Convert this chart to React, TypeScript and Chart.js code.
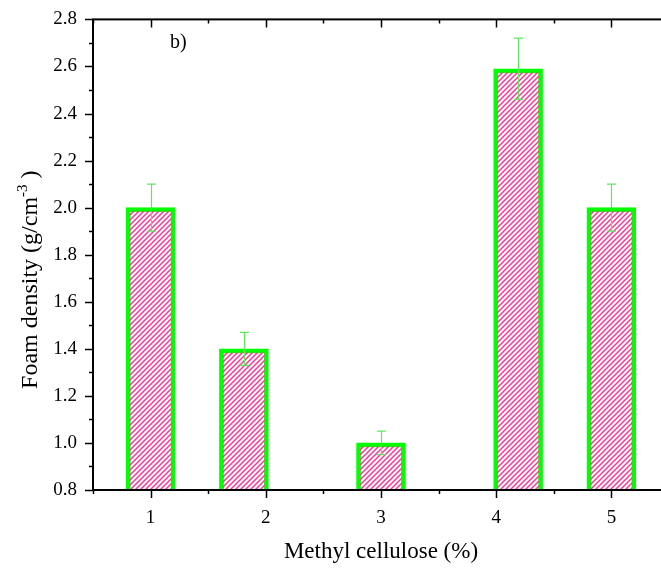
import React, { useEffect, useRef } from 'react';
import { Chart, registerables } from 'chart.js';

Chart.register(...registerables);

const xTickValues = [1, 2, 3, 4, 5];
const barPositions = [1, 1.81, 3, 4.19, 5];
const densities = [2.0, 1.4, 1.0, 2.59, 2.0];
const errors = [0.1, 0.07, 0.05, 0.13, 0.1];
const xMin = 0.5;
const xMax = 5.5;
const yMin = 0.8;
const yMax = 2.8;
const yStep = 0.2;
const xTitle = 'Methyl cellulose (%)';
const yTitleMain = 'Foam density (g/cm';
const yTitleSup = '-3';
const yTitleEnd = ' )';
const panelLabel = 'b)';

const SERIF = "'Liberation Serif', 'Times New Roman', serif";
Chart.defaults.font.family = SERIF;

function makePattern(): CanvasPattern | string {
  const size = 5;
  const pc = document.createElement('canvas');
  pc.width = size;
  pc.height = size;
  const g = pc.getContext('2d');
  if (!g) return '#ff3399';
  g.strokeStyle = '#ff3399';
  g.lineWidth = 1.5;
  g.beginPath();
  g.moveTo(-1, size + 1);
  g.lineTo(size + 1, -1);
  g.moveTo(-1, 1);
  g.lineTo(1, -1);
  g.moveTo(size - 1, size + 1);
  g.lineTo(size + 1, size - 1);
  g.stroke();
  const p = g.createPattern(pc, 'repeat');
  return p || '#ff3399';
}

const decorPlugin = {
  id: 'decor',
  afterDatasetsDraw(chart: any) {
    const ctx = chart.ctx;
    const xs = chart.scales.x;
    const ys = chart.scales.y;
    ctx.save();
    ctx.strokeStyle = '#5ee85e';
    ctx.lineWidth = 1.2;
    densities.forEach((v, i) => {
      const px = Math.round(xs.getPixelForValue(barPositions[i])) + 0.5;
      const top = ys.getPixelForValue(v + errors[i]);
      const bot = ys.getPixelForValue(v - errors[i]);
      ctx.beginPath();
      ctx.moveTo(px, top);
      ctx.lineTo(px, bot);
      ctx.moveTo(px - 4.5, top);
      ctx.lineTo(px + 4.5, top);
      ctx.moveTo(px - 4.5, bot);
      ctx.lineTo(px + 4.5, bot);
      ctx.stroke();
    });
    ctx.restore();
  },
  afterDraw(chart: any) {
    const ctx = chart.ctx;
    const xs = chart.scales.x;
    const ys = chart.scales.y;
    const left = xs.getPixelForValue(xMin);
    const right = xs.getPixelForValue(xMax);
    const top = ys.getPixelForValue(yMax);
    const bottom = ys.getPixelForValue(yMin);
    ctx.save();
    ctx.strokeStyle = '#000';
    ctx.lineWidth = 2;
    ctx.strokeRect(left, top, right - left, bottom - top);
    ctx.lineWidth = 1.5;
    ctx.beginPath();
    for (let k = 0; k <= Math.round((yMax - yMin) / (yStep / 2)); k++) {
      const v = yMin + k * (yStep / 2);
      const py = Math.round(ys.getPixelForValue(v)) + 0.5;
      const major = k % 2 === 0;
      const len = major ? 8 : 4;
      ctx.moveTo(left, py);
      ctx.lineTo(left - len, py);
      ctx.moveTo(right, py);
      ctx.lineTo(right - len, py);
    }
    xTickValues.forEach((v) => {
      const px = Math.round(xs.getPixelForValue(v)) + 0.5;
      ctx.moveTo(px, bottom);
      ctx.lineTo(px, bottom + 8);
      ctx.moveTo(px, top);
      ctx.lineTo(px, top + 8);
    });
    for (let v = xMin; v <= xMax + 1e-9; v += 1) {
      const px = Math.round(xs.getPixelForValue(v)) + 0.5;
      ctx.moveTo(px, bottom);
      ctx.lineTo(px, bottom + 4);
      ctx.moveTo(px, top);
      ctx.lineTo(px, top + 4);
    }
    ctx.stroke();

    ctx.fillStyle = '#000';
    const mainFont = '24px ' + SERIF;
    const supFont = '15px ' + SERIF;
    ctx.font = mainFont;
    const w1 = ctx.measureText(yTitleMain).width;
    const w3 = ctx.measureText(yTitleEnd).width;
    ctx.font = supFont;
    const w2 = ctx.measureText(yTitleSup).width;
    const total = w1 + w2 + w3;
    const cy = (top + bottom) / 2 + 25;
    ctx.translate(37, cy);
    ctx.rotate(-Math.PI / 2);
    ctx.textBaseline = 'alphabetic';
    ctx.textAlign = 'left';
    let x0 = -total / 2;
    ctx.font = mainFont;
    ctx.fillText(yTitleMain, x0, 0);
    x0 += w1;
    ctx.font = supFont;
    ctx.fillText(yTitleSup, x0, -10);
    x0 += w2;
    ctx.font = mainFont;
    ctx.fillText(yTitleEnd, x0, 0);
    ctx.restore();

    ctx.save();
    ctx.fillStyle = '#000';
    ctx.font = '20px ' + SERIF;
    ctx.textBaseline = 'alphabetic';
    ctx.fillText(panelLabel, left + 77, top + 29);
    ctx.restore();
  },
};

export default function App() {
  const ref = useRef<HTMLCanvasElement | null>(null);
  useEffect(() => {
    if (!ref.current) return;
    const pattern = makePattern();
    const chart = new Chart(ref.current, {
      type: 'bar',
      data: {
        datasets: [
          {
            data: barPositions.map((x, i) => ({ x, y: densities[i] })),
            backgroundColor: pattern as any,
            borderColor: '#00ff00',
            borderWidth: { left: 4, right: 4, top: 4, bottom: 0 } as any,
            borderSkipped: 'bottom',
            barThickness: 49,
          },
        ],
      },
      options: {
        responsive: false,
        animation: false,
        events: [],
        layout: { padding: { left: 0, right: 31, top: 8, bottom: 0 } },
        plugins: {
          legend: { display: false },
          tooltip: { enabled: false },
        },
        scales: {
          x: {
            type: 'linear',
            min: xMin,
            max: xMax,
            offset: false,
            grid: { display: false },
            border: { display: false },
            afterBuildTicks: (s: any) => {
              s.ticks = xTickValues.map((v) => ({ value: v }));
            },
            ticks: {
              color: '#000',
              font: { family: SERIF, size: 19 },
              padding: 9,
              maxRotation: 0,
              callback: (v: any) => String(v),
            },
            title: {
              display: true,
              text: xTitle,
              color: '#000',
              font: { family: SERIF, size: 23 },
              padding: { top: 0, bottom: 3 },
            },
            afterFit: (s: any) => {
              s.height = 79;
            },
          },
          y: {
            min: yMin,
            max: yMax,
            grid: { display: false },
            border: { display: false },
            ticks: {
              stepSize: yStep,
              color: '#000',
              font: { family: SERIF, size: 19 },
              padding: 8,
              callback: (v: any) => Number(v).toFixed(1),
            },
            afterFit: (s: any) => {
              s.width = 93;
            },
          },
        },
      },
      plugins: [decorPlugin],
    });
    return () => chart.destroy();
  }, []);
  return (
    <div
      style={{
        position: 'fixed',
        left: 0,
        top: 0,
        width: 661,
        height: 569,
        overflow: 'hidden',
        background: '#fff',
      }}
    >
      <canvas ref={ref} width={700} height={569} style={{ display: 'block' }} />
    </div>
  );
}
